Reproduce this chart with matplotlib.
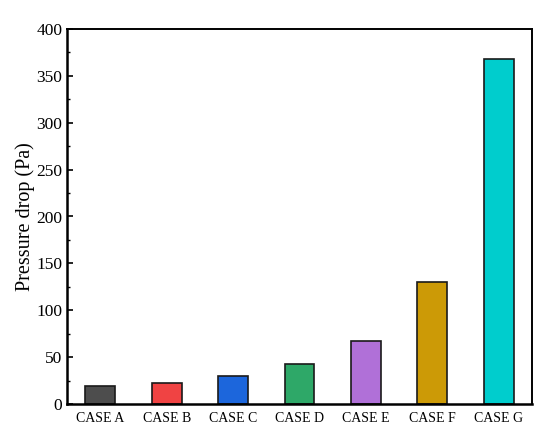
import numpy as np
import matplotlib.pyplot as plt
from matplotlib.ticker import MultipleLocator

cases = ['CASE A', 'CASE B', 'CASE C', 'CASE D', 'CASE E', 'CASE F', 'CASE G']
pressure_drop = [19.2, 22.7, 30.0, 42.3, 67.2, 130.0, 368.5]
colors = ['#4d4d4d', '#f04343', '#1c66dc', '#2ea868', '#b070d8', '#cc9a06', '#00cdcd']

plt.rcParams['font.family'] = ['Liberation Serif', 'DejaVu Serif']

fig = plt.figure(figsize=(5.5, 4.4), dpi=100)
ax = fig.add_axes([67/550, 36/440, 465/550, 375/440])

x = np.arange(len(cases))
ax.bar(x, pressure_drop, width=0.45, color=colors, edgecolor='#1a1a1a', linewidth=1.2)

ax.set_xlim(-0.5, 6.5)
ax.set_ylim(0, 400)
ax.set_xticks(x)
ax.set_xticklabels(cases, fontsize=10)
ax.yaxis.set_major_locator(MultipleLocator(50))
ax.yaxis.set_minor_locator(MultipleLocator(25))
ax.tick_params(axis='x', length=0, pad=6)
ax.tick_params(axis='y', which='major', direction='in', length=4, width=1.2, labelsize=12.5)
ax.tick_params(axis='y', which='minor', direction='in', length=2.5, width=1.0)
ax.set_ylabel('Pressure drop (Pa)', fontsize=14.5, labelpad=1)

for s in ax.spines.values():
    s.set_linewidth(1.4)
ax.spines['left'].set_linewidth(1.8)
ax.spines['bottom'].set_linewidth(1.8)

fig.savefig('out.png')
